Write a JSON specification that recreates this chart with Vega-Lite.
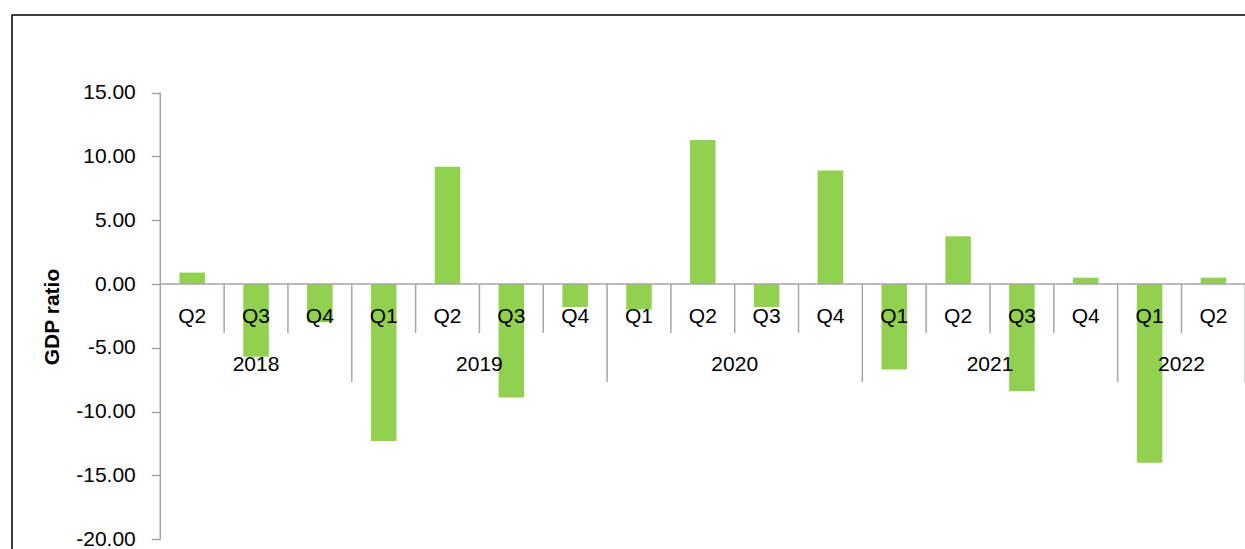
{
  "$schema": "https://vega.github.io/schema/vega-lite/v6.json",
  "width": 1235,
  "height": 537,
  "autosize": {"type": "none"},
  "padding": {"left": 12, "top": 15, "right": 0, "bottom": 0},
  "background": "white",
  "config": {
    "view": {"stroke": "#000000", "strokeWidth": 1.5},
    "font": "Liberation Sans",
    "text": {"font": "Liberation Sans"}
  },
  "data": {
    "values": [
      {"period": "2018 Q2", "year": "2018", "quarter": "Q2", "value": 0.9},
      {"period": "2018 Q3", "year": "2018", "quarter": "Q3", "value": -5.7},
      {"period": "2018 Q4", "year": "2018", "quarter": "Q4", "value": -3.0},
      {"period": "2019 Q1", "year": "2019", "quarter": "Q1", "value": -12.3},
      {"period": "2019 Q2", "year": "2019", "quarter": "Q2", "value": 9.2},
      {"period": "2019 Q3", "year": "2019", "quarter": "Q3", "value": -8.9},
      {"period": "2019 Q4", "year": "2019", "quarter": "Q4", "value": -1.8},
      {"period": "2020 Q1", "year": "2020", "quarter": "Q1", "value": -2.0},
      {"period": "2020 Q2", "year": "2020", "quarter": "Q2", "value": 11.3},
      {"period": "2020 Q3", "year": "2020", "quarter": "Q3", "value": -1.8},
      {"period": "2020 Q4", "year": "2020", "quarter": "Q4", "value": 8.9},
      {"period": "2021 Q1", "year": "2021", "quarter": "Q1", "value": -6.7},
      {"period": "2021 Q2", "year": "2021", "quarter": "Q2", "value": 3.75},
      {"period": "2021 Q3", "year": "2021", "quarter": "Q3", "value": -8.4},
      {"period": "2021 Q4", "year": "2021", "quarter": "Q4", "value": 0.5},
      {"period": "2022 Q1", "year": "2022", "quarter": "Q1", "value": -14.0},
      {"period": "2022 Q2", "year": "2022", "quarter": "Q2", "value": 0.5}
    ]
  },
  "layer": [
    {
      "mark": {"type": "bar", "color": "#92D050", "width": {"band": 0.4}},
      "encoding": {
        "x": {
          "field": "period",
          "type": "nominal",
          "sort": null,
          "scale": {
            "domain": ["2018 Q2", "2018 Q3", "2018 Q4", "2019 Q1", "2019 Q2", "2019 Q3", "2019 Q4", "2020 Q1", "2020 Q2", "2020 Q3", "2020 Q4", "2021 Q1", "2021 Q2", "2021 Q3", "2021 Q4", "2022 Q1", "2022 Q2"],
            "range": [148.3, 1233.3],
            "paddingInner": 0,
            "paddingOuter": 0
          },
          "axis": null
        },
        "y": {
          "field": "value",
          "type": "quantitative",
          "scale": {"domain": [-21, 21.09], "nice": false, "zero": false},
          "axis": {
            "values": [-20, -15, -10, -5, 0, 5, 10, 15],
            "format": ".2f",
            "labelExpr": "replace(datum.label, '−', '-')",
            "offset": -148.3,
            "domain": false,
            "grid": false,
            "tickSize": 9,
            "tickColor": "#a6a6a6",
            "tickWidth": 1.5,
            "labelFont": "Liberation Sans",
            "labelFontSize": 21,
            "labelColor": "#000000",
            "labelPadding": 16,
            "labelOverlap": false,
            "title": "GDP ratio",
            "titleFont": "Liberation Sans",
            "titleFontSize": 21,
            "titleFontWeight": "bold",
            "titleColor": "#000000",
            "titlePadding": 13,
            "titleY": 301.5
          }
        }
      }
    },
    {
      "mark": {"type": "rule", "color": "#a6a6a6", "strokeWidth": 1.5},
      "encoding": {
        "x": {"field": "period", "type": "nominal", "sort": null, "bandPosition": 0},
        "x2": {"field": "period", "bandPosition": 1},
        "y": {"datum": 0}
      }
    },
    {
      "transform": [{"filter": "datum.period == '2018 Q2'"}],
      "mark": {"type": "rule", "color": "#a6a6a6", "strokeWidth": 1.5},
      "encoding": {
        "x": {"field": "period", "type": "nominal", "sort": null, "bandPosition": 0},
        "y": {"datum": 15},
        "y2": {"datum": -20}
      }
    },
    {
      "transform": [{"filter": "datum.quarter != 'Q1' && datum.period != '2018 Q2'"}],
      "mark": {"type": "rule", "color": "#a6a6a6", "strokeWidth": 1.5},
      "encoding": {
        "x": {"field": "period", "type": "nominal", "sort": null, "bandPosition": 0},
        "y": {"datum": 0},
        "y2": {"datum": -3.84}
      }
    },
    {
      "transform": [{"filter": "datum.quarter == 'Q1'"}],
      "mark": {"type": "rule", "color": "#a6a6a6", "strokeWidth": 1.5},
      "encoding": {
        "x": {"field": "period", "type": "nominal", "sort": null, "bandPosition": 0},
        "y": {"datum": 0},
        "y2": {"datum": -7.68}
      }
    },
    {
      "transform": [{"filter": "datum.period == '2022 Q2'"}],
      "mark": {"type": "rule", "color": "#a6a6a6", "strokeWidth": 1.5},
      "encoding": {
        "x": {"field": "period", "type": "nominal", "sort": null, "bandPosition": 1},
        "y": {"datum": 0},
        "y2": {"datum": -7.68}
      }
    },
    {
      "mark": {"type": "text", "fontSize": 21, "color": "#000000", "baseline": "middle", "align": "center", "font": "Liberation Sans"},
      "encoding": {
        "x": {"field": "period", "type": "nominal", "sort": null, "bandPosition": 0.5},
        "y": {"datum": -2.56},
        "text": {"field": "quarter"}
      }
    },
    {
      "transform": [{"filter": "datum.period == '2018 Q3'"}],
      "mark": {"type": "text", "fontSize": 21, "color": "#000000", "baseline": "middle", "align": "center", "font": "Liberation Sans"},
      "encoding": {
        "x": {"field": "period", "type": "nominal", "sort": null, "bandPosition": 0.5},
        "y": {"datum": -6.31},
        "text": {"field": "year"}
      }
    },
    {
      "transform": [{"filter": "datum.period == '2019 Q3' || datum.period == '2020 Q3' || datum.period == '2021 Q3' || datum.period == '2022 Q2'"}],
      "mark": {"type": "text", "fontSize": 21, "color": "#000000", "baseline": "middle", "align": "center", "font": "Liberation Sans"},
      "encoding": {
        "x": {"field": "period", "type": "nominal", "sort": null, "bandPosition": 0},
        "y": {"datum": -6.31},
        "text": {"field": "year"}
      }
    }
  ]
}
